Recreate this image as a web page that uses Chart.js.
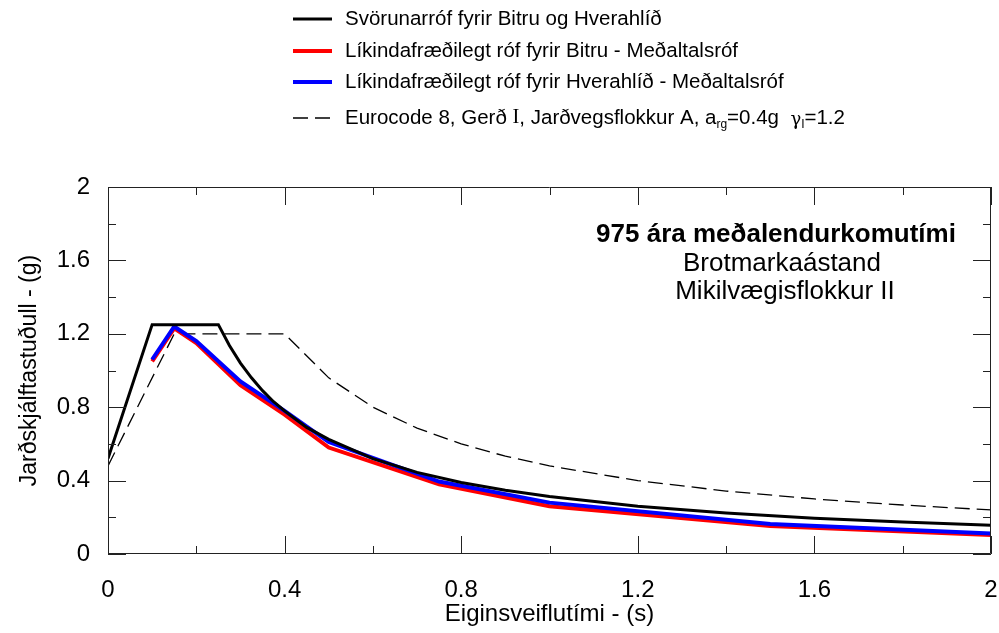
<!DOCTYPE html>
<html>
<head>
<meta charset="utf-8">
<script src="https://cdn.jsdelivr.net/npm/chart.js@4.4.1/dist/chart.umd.min.js"></script>
<style>
  html, body { margin: 0; padding: 0; background: #fff; }
  #wrap { width: 999px; height: 633px; }
</style>
</head>
<body>
<div id="wrap"><canvas id="chart"></canvas></div>
<script>
// Svörunarróf (design spectrum) for Bitra and Hverahlíð
const periodsSvorun = [0, 0.1, 0.25, 0.275, 0.3, 0.325, 0.35, 0.375, 0.4, 0.45, 0.5, 0.6, 0.7, 0.8, 0.9, 1.0, 1.2, 1.4, 1.6, 1.8, 2.0];
const svorun = [0.52, 1.25, 1.25, 1.136, 1.04, 0.96, 0.89, 0.83, 0.78, 0.69, 0.625, 0.52, 0.445, 0.39, 0.347, 0.313, 0.26, 0.223, 0.195, 0.174, 0.156];

// Probabilistic mean spectra
const periodsProb = [0.1, 0.15, 0.2, 0.3, 0.4, 0.5, 0.75, 1.0, 1.5, 2.0];
const bitru = [1.05, 1.23, 1.15, 0.92, 0.76, 0.58, 0.38, 0.26, 0.152, 0.104];
const hverahlid = [1.06, 1.24, 1.16, 0.94, 0.78, 0.61, 0.395, 0.28, 0.163, 0.112];

// Eurocode 8, type I, ground A
const periodsEc8 = [0, 0.15, 0.4, 0.5, 0.6, 0.7, 0.8, 0.9, 1.0, 1.2, 1.4, 1.6, 1.8, 2.0];
const ec8 = [0.48, 1.2, 1.2, 0.96, 0.8, 0.686, 0.6, 0.533, 0.48, 0.4, 0.343, 0.3, 0.267, 0.24];

const xTicks = [0, 0.4, 0.8, 1.2, 1.6, 2];
const yTicks = [0, 0.4, 0.8, 1.2, 1.6, 2];
const tickLabels = ['0', '0.4', '0.8', '1.2', '1.6', '2'];
const minorTicks = [0.2, 0.6, 1.0, 1.4, 1.8];

const FONT = "'Liberation Sans', Arial, sans-serif";

function pts(xs, ys) {
  return xs.map((x, i) => ({ x: x, y: ys[i] }));
}

function lineSet(label, xs, ys, color, width, order, dash) {
  return {
    label: label,
    data: pts(xs, ys),
    showLine: true,
    borderColor: color,
    backgroundColor: color,
    borderWidth: width,
    borderDash: dash || [],
    pointRadius: 0,
    tension: 0,
    order: order
  };
}

// inward ticks on all four sides plus the frame
const frameTicks = {
  id: 'frameTicks',
  afterDraw(chart) {
    const { ctx, chartArea: a, scales } = chart;
    const xs = scales.x, ys = scales.y;
    ctx.save();
    ctx.strokeStyle = '#222';
    ctx.lineWidth = 1;
    ctx.beginPath();
    ctx.rect(a.left + 0.5, a.top + 0.5, a.right - a.left - 1, a.bottom - a.top - 1);
    ctx.stroke();

    const mark = (list, len) => {
      list.forEach(v => {
        const px = Math.round(xs.getPixelForValue(v)) + 0.5;
        const py = Math.round(ys.getPixelForValue(v)) + 0.5;
        ctx.beginPath();
        ctx.moveTo(px, a.bottom); ctx.lineTo(px, a.bottom - len);
        ctx.moveTo(px, a.top); ctx.lineTo(px, a.top + len);
        ctx.moveTo(a.left, py); ctx.lineTo(a.left + len, py);
        ctx.moveTo(a.right, py); ctx.lineTo(a.right - len, py);
        ctx.stroke();
      });
    };
    mark(xTicks, 18);
    mark(minorTicks, 8);
    ctx.restore();
  }
};

// legend at the top and annotation box inside the plot
const legendNotes = {
  id: 'legendNotes',
  afterDraw(chart) {
    const ctx = chart.ctx;
    ctx.save();
    const x0 = 293, x1 = 332, tx = 345;
    const main = '20.5px ' + FONT;
    const rows = [
      { y: 19, color: '#000', width: 3, dash: [], text: 'Svörunarróf fyrir Bitru og Hverahlíð' },
      { y: 51, color: '#ff0000', width: 4, dash: [], text: 'Líkindafræðilegt róf fyrir Bitru - Meðaltalsróf' },
      { y: 82, color: '#0000ff', width: 4, dash: [], text: 'Líkindafræðilegt róf fyrir Hverahlíð - Meðaltalsróf' },
      { y: 118, color: '#000', width: 1.5, dash: [15, 7], text: null }
    ];
    ctx.textBaseline = 'middle';
    ctx.textAlign = 'left';
    ctx.fillStyle = '#000';
    rows.forEach(r => {
      ctx.strokeStyle = r.color;
      ctx.lineWidth = r.width;
      ctx.setLineDash(r.dash);
      ctx.beginPath();
      ctx.moveTo(x0, r.y); ctx.lineTo(x1, r.y);
      ctx.stroke();
      ctx.setLineDash([]);
      if (r.text) {
        ctx.font = main;
        ctx.fillText(r.text, tx, r.y);
      }
    });

    // last row with subscripts
    const y = rows[3].y;
    let cx = tx;
    const part = (s, font, dy) => {
      ctx.font = font;
      ctx.fillText(s, cx, y + (dy || 0));
      cx += ctx.measureText(s).width;
    };
    const sub = '12px ' + FONT;
    part('Eurocode 8, Gerð ', main);
    part('I', "20.5px 'Liberation Serif', 'Times New Roman', serif");
    part(', Jarðvegsflokkur A, a', main);
    part('rg', sub, 7);
    part('=0.4g  ', main);
    part('γ', "18px 'DejaVu Serif', serif", 2);
    part('I', sub, 7);
    part('=1.2', main);

    // annotation
    ctx.textAlign = 'center';
    ctx.font = 'bold 26px ' + FONT;
    ctx.fillText('975 ára meðalendurkomutími', 776, 235);
    ctx.font = '26px ' + FONT;
    ctx.fillText('Brotmarkaástand', 782, 264);
    ctx.fillText('Mikilvægisflokkur II', 785, 292);
    ctx.restore();
  }
};

const config = {
  type: 'scatter',
  data: {
    datasets: [
      lineSet('Svörunarróf fyrir Bitru og Hverahlíð', periodsSvorun, svorun, '#000000', 3, 0),
      lineSet('Líkindafræðilegt róf fyrir Hverahlíð - Meðaltalsróf', periodsProb, hverahlid, '#0000ff', 4, 1),
      lineSet('Líkindafræðilegt róf fyrir Bitru - Meðaltalsróf', periodsProb, bitru, '#ff0000', 4, 2),
      lineSet('Eurocode 8, Gerð I, Jarðvegsflokkur A', periodsEc8, ec8, '#000000', 1.3, 3, [15, 7])
    ]
  },
  options: {
    responsive: true,
    maintainAspectRatio: false,
    animation: false,
    layout: { padding: { left: 0, right: 8, top: 187, bottom: 0 } },
    plugins: {
      legend: { display: false },
      tooltip: { enabled: false }
    },
    scales: {
      x: {
        type: 'linear',
        min: 0,
        max: 2,
        afterBuildTicks: s => { s.ticks = xTicks.map(v => ({ value: v })); },
        afterFit: s => { s.height = 79; s.paddingLeft = 0; s.paddingRight = 0; },
        grid: { display: false, drawTicks: false },
        border: { display: false },
        ticks: {
          padding: 22,
          color: '#000',
          maxRotation: 0,
          font: { family: FONT, size: 24 },
          callback: (v, i) => tickLabels[i]
        },
        title: {
          display: true,
          text: 'Eiginsveiflutími - (s)',
          color: '#000',
          font: { family: FONT, size: 24 },
          padding: { top: 4, bottom: 4 }
        }
      },
      y: {
        type: 'linear',
        min: 0,
        max: 2,
        afterBuildTicks: s => { s.ticks = yTicks.map(v => ({ value: v })); },
        afterFit: s => { s.width = 108; },
        grid: { display: false, drawTicks: false },
        border: { display: false },
        ticks: {
          padding: 18,
          color: '#000',
          font: { family: FONT, size: 24 },
          callback: (v, i) => tickLabels[i]
        },
        title: {
          display: true,
          text: 'Jarðskjálftastuðull - (g)',
          color: '#000',
          font: { family: FONT, size: 23 },
          padding: { top: 16, bottom: 16 }
        }
      }
    }
  },
  plugins: [frameTicks, legendNotes]
};

new Chart(document.getElementById('chart').getContext('2d'), config);
</script>
</body>
</html>
